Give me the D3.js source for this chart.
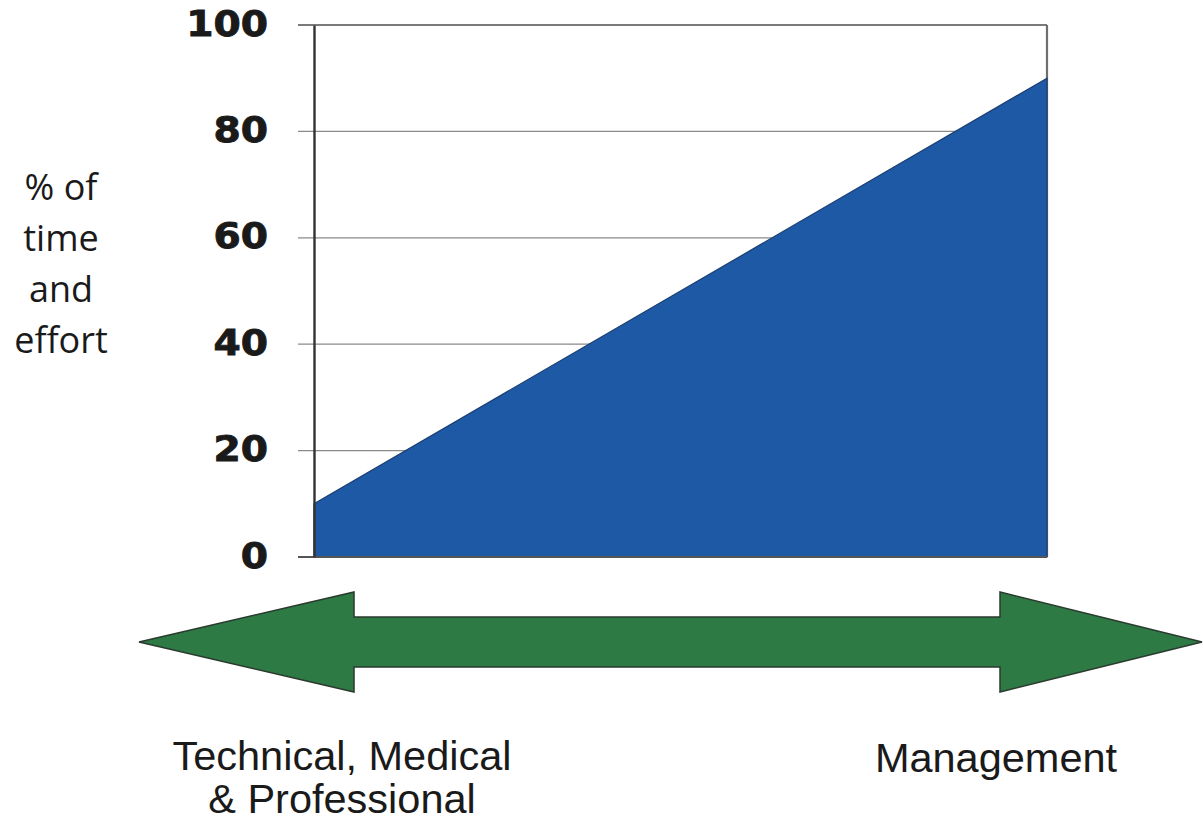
<!DOCTYPE html>
<html>
<head>
<meta charset="utf-8">
<script src="https://cdn.jsdelivr.net/npm/d3@7"></script>
<style>
  html, body { margin: 0; padding: 0; background: #fff; }
  svg { display: block; }
</style>
</head>
<body>
<svg id="chart" width="1203" height="827"></svg>
<script>
// ---- data ----
const positions = [0, 1];            // left edge (specialist) -> right edge (management)
const effortValues = [10, 90];       // % of time and effort
const yTickValues = [0, 20, 40, 60, 80, 100];
const yLabelLines = ["% of", "time", "and", "effort"];
const leftLabelLines = ["Technical, Medical", "& Professional"];
const rightLabelLines = ["Management"];

const svg = d3.select("#chart");
const plot = { left: 314, right: 1047, top: 25, bottom: 557 };

const x = d3.scaleLinear().domain([0, 1]).range([plot.left, plot.right]);
const y = d3.scaleLinear().domain([0, 100]).range([plot.bottom, plot.top]);

// gridlines (extend a little left of axis as tick marks)
svg.append("g")
  .selectAll("line")
  .data(yTickValues.filter(v => v > 0 && v < 100))
  .join("line")
  .attr("x1", plot.left - 16).attr("x2", plot.right)
  .attr("y1", d => y(d)).attr("y2", d => y(d))
  .attr("stroke", "#8a8a8a").attr("stroke-width", 1.3);

// top frame line + right frame line
svg.append("line")
  .attr("x1", plot.left - 16).attr("x2", plot.right)
  .attr("y1", y(100)).attr("y2", y(100))
  .attr("stroke", "#7a7a7a").attr("stroke-width", 2.2);
svg.append("line")
  .attr("x1", plot.right).attr("x2", plot.right)
  .attr("y1", y(100)).attr("y2", y(0))
  .attr("stroke", "#6f6f6f").attr("stroke-width", 2.2);

// area
const data = positions.map((p, i) => ({ p, v: effortValues[i] }));
const area = d3.area().x(d => x(d.p)).y0(y(0)).y1(d => y(d.v));
svg.append("path")
  .datum(data)
  .attr("d", area)
  .attr("fill", "#1d59a4")
  .attr("stroke", "#1a3e72")
  .attr("stroke-width", 1.2);

// bottom axis line
svg.append("line")
  .attr("x1", plot.left - 16).attr("x2", plot.right)
  .attr("y1", y(0)).attr("y2", y(0))
  .attr("stroke", "#555").attr("stroke-width", 2);

// y axis with d3
const yAxis = d3.axisLeft(y).tickValues(yTickValues).tickSize(0).tickPadding(0).tickFormat(d3.format("d"));
const gy = svg.append("g").attr("transform", `translate(${plot.left},0)`).call(yAxis);
gy.select(".domain").attr("stroke", "#333").attr("stroke-width", 2.4);
gy.selectAll("text")
  .attr("x", 0)
  .attr("dy", "0")
  .attr("transform", "translate(-46,10) scale(1.12,1)")
  .attr("font-family", "DejaVu Sans")
  .attr("font-weight", "bold")
  .attr("font-size", 35)
  .attr("fill", "#1a1a1a")
  .attr("stroke", "#1a1a1a")
  .attr("stroke-width", 0.9)
  .attr("text-anchor", "end");

// y label
svg.append("text")
  .attr("font-family", "Open Sans")
  .attr("font-size", 36)
  .attr("fill", "#1a1a1a")
  .attr("text-anchor", "middle")
  .selectAll("tspan")
  .data(yLabelLines)
  .join("tspan")
  .attr("x", 61)
  .attr("y", (d, i) => 200 + i * 51)
  .text(d => d);

// double arrow (decorative)
const ax = { tipL: 139, backL: 354, backR: 1000, tipR: 1202, yMid: 642, headT: 592, headB: 692, shaftT: 617, shaftB: 667 };
const arrowPts = [
  [ax.tipL, ax.yMid], [ax.backL, ax.headT], [ax.backL, ax.shaftT], [ax.backR, ax.shaftT],
  [ax.backR, ax.headT], [ax.tipR, ax.yMid], [ax.backR, ax.headB], [ax.backR, ax.shaftB],
  [ax.backL, ax.shaftB], [ax.backL, ax.headB]
];
svg.append("path")
  .attr("d", d3.line()(arrowPts) + "Z")
  .attr("fill", "#2e7a45")
  .attr("stroke", "#2a3a2e")
  .attr("stroke-width", 1.5)
  .attr("stroke-linejoin", "miter");

// category labels
svg.append("text")
  .attr("font-family", "Liberation Sans, Arial, sans-serif")
  .attr("font-size", 41.5)
  .attr("fill", "#1a1a1a")
  .attr("text-anchor", "middle")
  .selectAll("tspan")
  .data(leftLabelLines)
  .join("tspan")
  .attr("x", 342)
  .attr("y", (d, i) => 770 + i * 43)
  .text(d => d);

svg.append("text")
  .attr("font-family", "Liberation Sans, Arial, sans-serif")
  .attr("font-size", 41.5)
  .attr("fill", "#1a1a1a")
  .attr("text-anchor", "middle")
  .selectAll("tspan")
  .data(rightLabelLines)
  .join("tspan")
  .attr("x", 996)
  .attr("y", 772)
  .text(d => d);
</script>
</body>
</html>
